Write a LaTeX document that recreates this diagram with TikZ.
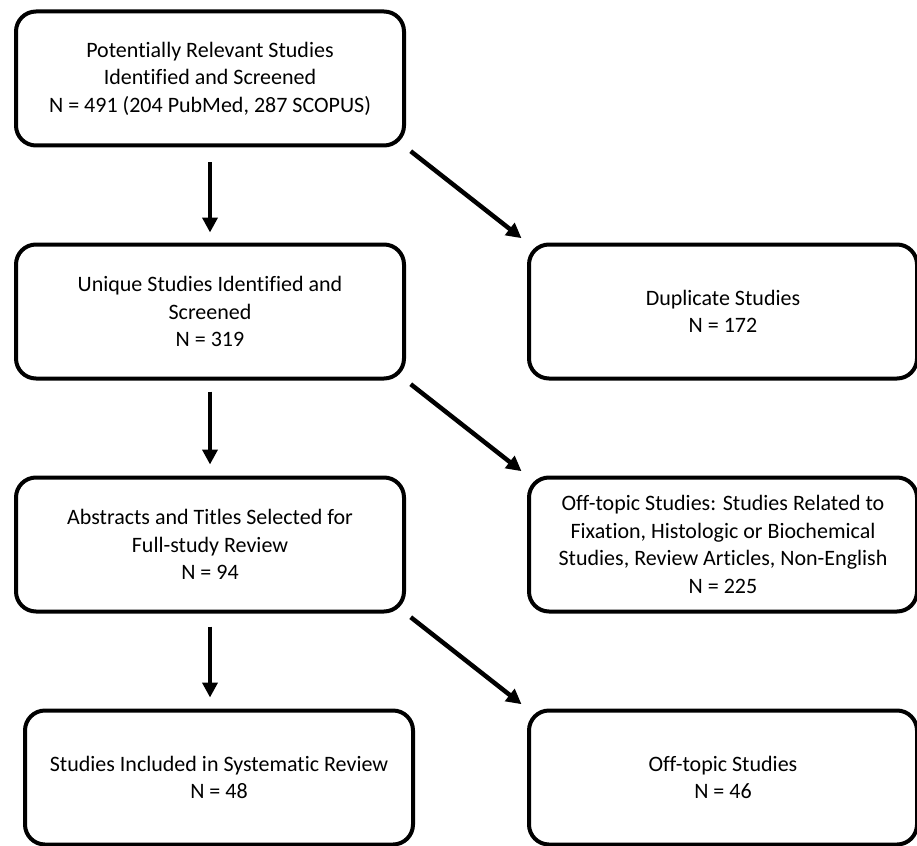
\documentclass[tikz,border=0pt]{standalone}
\usepackage{fontspec}
\setmainfont{Carlito}[Ligatures=CommonOff]
\usepackage{tikz}
\usetikzlibrary{positioning,arrows.meta}

\begin{document}
\begin{tikzpicture}[
  node distance=95pt,
  box/.style={draw=black, line width=4pt, rounded corners=20pt, fill=white, minimum width=388pt, minimum height=134pt, align=center, inner sep=6pt, font=\fontsize{22pt}{27.5pt}\selectfont},
  arr/.style={-{Triangle[length=15pt,width=15pt]}, line width=4.5pt, draw=black}
]
\useasboundingbox (0pt,0pt) rectangle (917pt,-845pt);
\node[box] (found) at (210pt,-78.5pt) {Potentially Relevant Studies\\Identified and Screened\\N = 491 (204 PubMed, 287 SCOPUS)};
\node[box, below=of found] (unique) {Unique Studies Identified and\\Screened\\N = 319};
\node[box, below=of unique] (abstr) {Abstracts and Titles Selected for\\Full-study Review\\N = 94};
\node[box, below=of abstr, xshift=9pt] (incl) {Studies Included in Systematic Review\\N = 48};
\node[box, right=121pt of unique] (dup) {Duplicate Studies\\N = 172};
\node[box, right=121pt of abstr] (off) {Off-topic Studies: Studies Related to\\Fixation, Histologic or Biochemical\\Studies, Review Articles, Non-English\\N = 225};
\node[box, right=112pt of incl] (offb) {Off-topic Studies\\N = 46};
\draw[arr, shorten <=15pt, shorten >=10pt] (found) -- (unique);
\draw[arr, shorten <=11pt, shorten >=11pt] (unique) -- (abstr);
\draw[arr, shorten <=13pt, shorten >=11pt] (abstr) -- (abstr.south |- incl.north);
\draw[arr, shorten <=6pt, shorten >=7pt] (found.south east) -- (dup.north west);
\draw[arr, shorten <=6pt, shorten >=7pt] (unique.south east) -- (off.north west);
\draw[arr, shorten <=6pt, shorten >=7pt] (abstr.south east) -- (offb.north west);
\end{tikzpicture}
\end{document}
